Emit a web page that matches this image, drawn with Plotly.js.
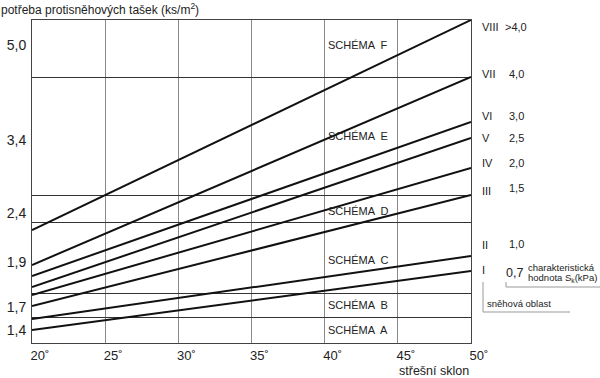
<!DOCTYPE html>
<html>
<head>
<meta charset="utf-8">
<script src="https://cdn.plot.ly/plotly-3.0.1.min.js"></script>
<style>html,body{margin:0;padding:0;background:#fff}#chart{width:600px;height:378px}</style>
</head>
<body>
<div id="chart"></div>
<script>
// roof pitch (degrees)
const slopes = [20, 50];
// snow regions and characteristic snow load values
const regionNames = ['I', 'II', 'III', 'IV', 'V', 'VI', 'VII', 'VIII'];
const snowLoads = ['0,7', '1,0', '1,5', '2,0', '2,5', '3,0', '4,0', '>4,0'];
// line heights in relative chart units (0 = bottom, 323 = top) at 20° and 50°
const startVals = [13, 24, 37, 48, 56, 67, 78, 113];
const endVals = [72, 87, 148, 175, 205, 221, 266, 323];
// scheme zones: upper boundaries and names
const zoneBounds = [26, 50, 121, 148, 266, 323];
const zoneNames = ['SCHÉMA  A', 'SCHÉMA  B', 'SCHÉMA  C', 'SCHÉMA  D', 'SCHÉMA  E', 'SCHÉMA  F'];
const zoneLabelY = [13, 38, 83, 132, 207, 298];
// required anti-snow tiles per m² for each scheme
const tileNeed = ['1,4', '1,7', '1,9', '2,4', '3,4', '5,0'];
const tileNeedY = [13, 36, 81, 130, 203, 298];
const xTicks = [20, 25, 30, 35, 40, 45, 50];

const font = 'Liberation Sans, Arial, sans-serif';
const dark = '#222';

const traces = regionNames.map((n, i) => ({
  type: 'scatter', mode: 'lines', name: n,
  x: slopes, y: [startVals[i], endVals[i]],
  line: {color: '#111', width: 2}, showlegend: false, hoverinfo: 'skip'
}));
// invisible trace for second y axis (zone boundaries)
traces.push({type: 'scatter', mode: 'none', x: slopes, y: [0, 323], yaxis: 'y2', showlegend: false, hoverinfo: 'skip'});

const L = 32, R = 471, T = 20, B = 343;
const annotations = [];
function pa(px, py, text, size, anchor) {
  annotations.push({x: (px - L) / (R - L), y: (B - py) / (B - T), xref: 'paper', yref: 'paper', text: text,
    showarrow: false, font: {family: font, size: size, color: dark}, xanchor: anchor || 'left', yanchor: 'middle',
    borderpad: 0});
}
zoneNames.forEach((z, i) => annotations.push({
  x: 42.3, y: zoneLabelY[i], xref: 'x', yref: 'y', text: z, showarrow: false,
  font: {family: font, size: 11, color: dark}, xanchor: 'center', yanchor: 'middle'
}));
const roman = [270, 245, 191, 163, 138, 116, 74, 27];
const valY = [273, 244, 188, 163, 138, 116, 74, 27];
regionNames.forEach((n, i) => {
  pa(481, roman[i], n, 11);
  pa(i === 0 ? 505 : (i === 7 ? 504 : 508), valY[i], snowLoads[i], i === 0 ? 12.5 : 11);
});
pa(527, 267, 'charakteristická', 9.5);
pa(527, 278, 'hodnota S<sub>k</sub>(kPa)', 9.5);
pa(486, 303, 'sněhová oblast', 9.5);
pa(0, 9, 'potřeba protisněhových tašek (ks/m<sup>2</sup>)', 12);
pa(470, 370.5, 'střešní sklon', 12.5, 'right');

function seg(x0, y0, x1, y1) {
  return {type: 'line', xref: 'paper', yref: 'paper', x0: (x0 - L) / (R - L), x1: (x1 - L) / (R - L),
    y0: (B - y0) / (B - T), y1: (B - y1) / (B - T), line: {color: '#999', width: 1}};
}
const shapes = [
  seg(483, 282, 483, 312), seg(483, 312, 570, 312),
  seg(506, 282, 506, 287), seg(506, 287, 600, 287)
];

const layout = {
  width: 600, height: 378,
  margin: {l: 32, r: 129, t: 20, b: 35},
  paper_bgcolor: '#fff', plot_bgcolor: '#fff',
  font: {family: font, color: dark},
  xaxis: {range: [20, 50], tickvals: xTicks, ticktext: xTicks.map(v => v + '˚'),
    showgrid: true, gridcolor: '#8a8a8a', gridwidth: 1, zeroline: false,
    showline: true, linecolor: '#444', linewidth: 1, mirror: true, ticks: '',
    ticklabelshift: 8, ticklabelstandoff: 0,
    tickfont: {family: font, size: 13, color: dark}},
  yaxis: {range: [0, 323], tickvals: tileNeedY, ticktext: tileNeed, showgrid: false, zeroline: false,
    showline: true, linecolor: '#444', linewidth: 1, mirror: true, ticks: '',
    ticklabelstandoff: 2, tickfont: {family: font, size: 14, color: dark}},
  yaxis2: {range: [0, 323], overlaying: 'y', side: 'right', tickvals: zoneBounds.slice(0, 5),
    showticklabels: false, showgrid: true, gridcolor: '#333', gridwidth: 1, zeroline: false, ticks: ''},
  annotations: annotations,
  shapes: shapes,
  showlegend: false
};
Plotly.newPlot('chart', traces, layout, {staticPlot: true, displayModeBar: false});
</script>
</body>
</html>
